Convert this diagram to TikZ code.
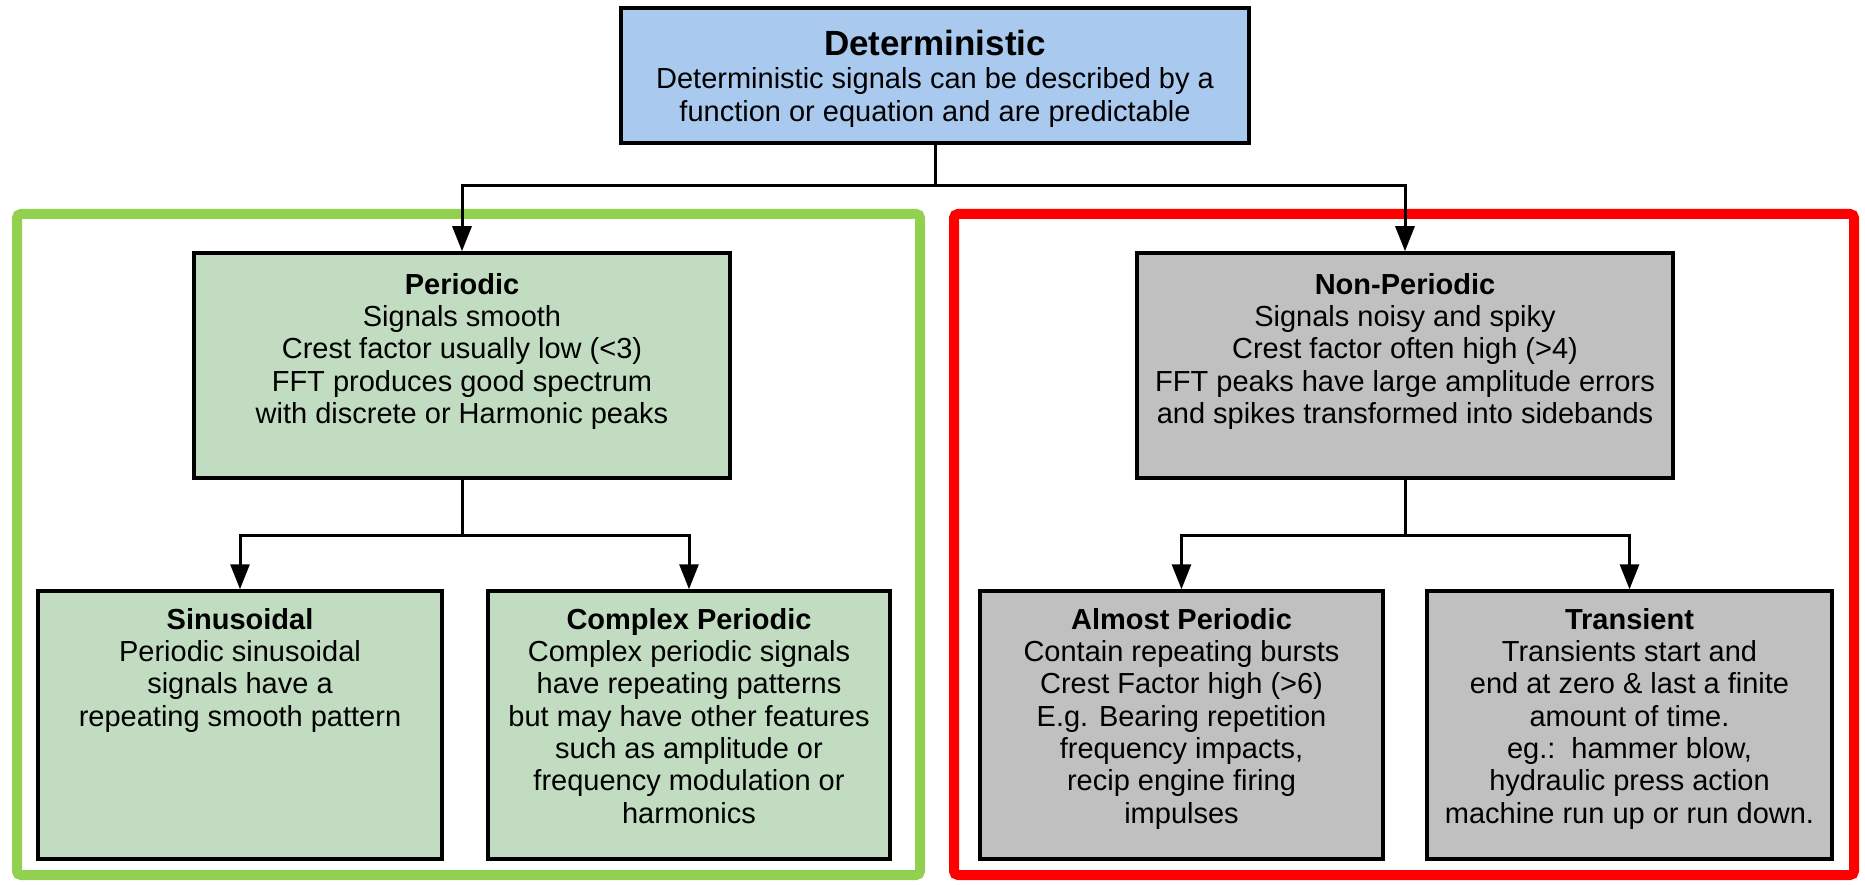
\documentclass[tikz,border=0pt]{standalone}
\usepackage{fontspec}
\setmainfont{Liberation Sans}
\usetikzlibrary{arrows.meta}
\definecolor{blueF}{RGB}{169,201,238}
\definecolor{greenF}{RGB}{193,220,192}
\definecolor{grayF}{RGB}{192,192,192}
\definecolor{frameG}{RGB}{146,208,80}
\definecolor{frameR}{RGB}{255,0,0}
\begin{document}
\begin{tikzpicture}[x=1pt,y=-1pt,
  box/.style={draw=black, line width=3.5pt, inner sep=0pt},
  txt/.style={align=center, font=\fontsize{29}{32.3}\selectfont, anchor=north, inner sep=0pt},
  conn/.style={line width=3pt},
  arr/.style={conn, -{Triangle[width=19pt,length=25pt]}},
  frame/.style={line width=10pt, rounded corners=4pt}]
\useasboundingbox (0,0) rectangle (1865,885);
\fill[white] (0,0) rectangle (1865,885);
% frames
\draw[frame, draw=frameG] (17,214) rectangle (920,875);
\draw[frame, draw=frameR] (954,214) rectangle (1854,875);
% boxes
\node[box, fill=blueF, minimum width=628pt, minimum height=135pt] (det) at (935,75.5) {};
\node[box, fill=greenF, minimum width=536pt, minimum height=225pt] (per) at (462,365.5) {};
\node[box, fill=grayF, minimum width=536pt, minimum height=225pt] (non) at (1405,365.5) {};
\node[box, fill=greenF, minimum width=404pt, minimum height=268pt] (sin) at (240,725) {};
\node[box, fill=greenF, minimum width=402pt, minimum height=268pt] (cpx) at (689,725) {};
\node[box, fill=grayF, minimum width=403pt, minimum height=268pt] (alm) at (1181.5,725) {};
\node[box, fill=grayF, minimum width=405pt, minimum height=268pt] (tra) at (1629.5,725) {};
% texts
\node[txt] (tdet) at (935,30) {{\fontsize{35}{40}\selectfont\bfseries Deterministic}\\[1pt]
  Deterministic signals can be described by a\\ function or equation and are predictable};
\node[txt] (tper) at (462,273) {\textbf{Periodic}\\ Signals smooth\\ Crest factor usually low (<3)\\
  FFT produces good spectrum\\ with discrete or Harmonic peaks};
\node[txt] (tnon) at (1405,273) {\textbf{Non-Periodic}\\ Signals noisy and spiky\\ Crest factor often high (>4)\\
  FFT peaks have large amplitude errors\\ and spikes transformed into sidebands};
\node[txt] (tsin) at (240,608) {\textbf{Sinusoidal}\\ Periodic sinusoidal\\ signals have a\\ repeating smooth pattern};
\node[txt] (tcpx) at (689,608) {\textbf{Complex Periodic}\\ Complex periodic signals\\ have repeating patterns\\
  but may have other features\\ such as amplitude or\\ frequency modulation or\\ harmonics};
\node[txt] (talm) at (1181.5,608) {\textbf{Almost Periodic}\\ Contain repeating bursts\\ Crest Factor high (>6)\\
  E.g. Bearing repetition\\ frequency impacts,\\ recip engine firing\\ impulses};
\node[txt] (ttra) at (1629.5,608) {\textbf{Transient}\\ Transients start and\\ end at zero \& last a finite\\
  amount of time.\\ eg.:\ \ hammer blow,\\ hydraulic press action\\ machine run up or run down.};
% connectors
\coordinate (j1) at (935,186);
\coordinate (j2) at (462,535);
\coordinate (j3) at (1405,535);
\draw[conn] (det.south) -- (j1);
\draw[arr] (j1) -| (per.north);
\draw[arr] (j1) -| (non.north);
\draw[conn] (per.south) -- (j2);
\draw[arr] (j2) -| (sin.north);
\draw[arr] (j2) -| (cpx.north);
\draw[conn] (non.south) -- (j3);
\draw[arr] (j3) -| (alm.north);
\draw[arr] (j3) -| (tra.north);
\end{tikzpicture}
\end{document}
